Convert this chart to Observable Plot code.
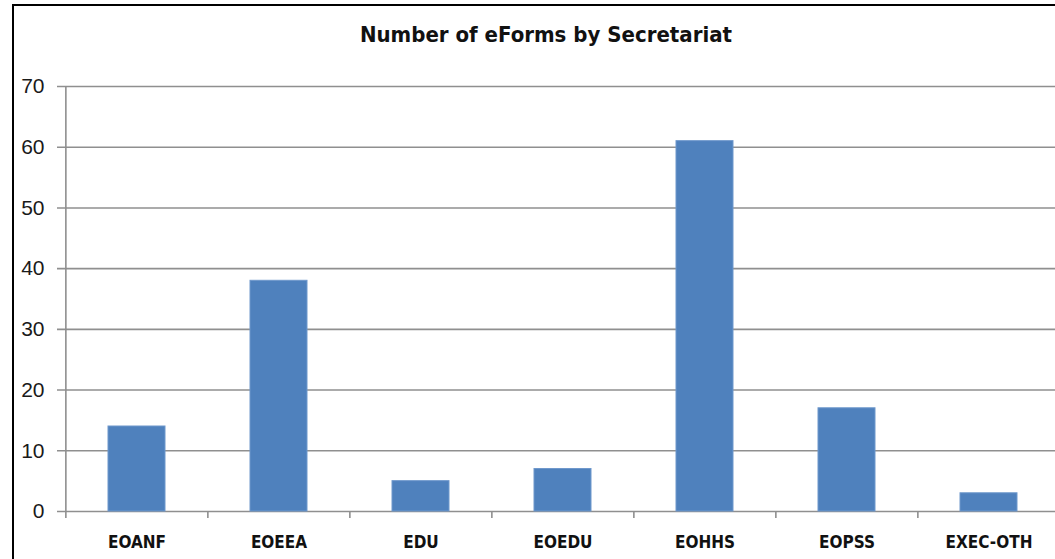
<!DOCTYPE html>
<html>
<head>
<meta charset="utf-8">
<script src="https://cdn.jsdelivr.net/npm/d3@7"></script>
<script src="https://cdn.jsdelivr.net/npm/@observablehq/plot@0.6"></script>
<style>
  html, body { margin: 0; padding: 0; background: #fff; }
  #page { position: relative; width: 1055px; height: 559px; overflow: hidden; background: #fff; }
  #frame { position: absolute; left: 12px; top: 4px; width: 1200px; height: 700px;
           border-left: 2px solid #000; border-top: 2px solid #000; box-sizing: border-box; }
  #title { position: absolute; left: 0; top: 22px; width: 1092px; text-align: center;
           font-family: "Liberation Sans Narrow", "DejaVu Sans Condensed", "Liberation Sans", sans-serif;
           font-weight: bold; font-size: 22px; color: #111; }
  #chart { position: absolute; left: 0; top: 60px; }
</style>
</head>
<body>
<div id="page">
  <div id="frame"></div>
  <div id="title">Number of eForms by Secretariat</div>
  <div id="chart"></div>
</div>
<script>
const categories = ["EOANF", "EOEEA", "EDU", "EOEDU", "EOHHS", "EOPSS", "EXEC-OTH"];
const counts = [14, 38, 5, 7, 61, 17, 3];
const yTicks = [0, 10, 20, 30, 40, 50, 60, 70];

const data = categories.map((c, i) => ({secretariat: c, count: counts[i]}));

const xStart = 64, xEnd = 1060;
const halfStep = (xEnd - xStart) / categories.length / 2;
const gridColor = "#8f8f8f";

const chart = Plot.plot({
  width: 1055,
  height: 499,
  marginTop: 26,
  marginBottom: 48,
  marginLeft: 64,
  marginRight: 0,
  style: {background: "transparent", overflow: "visible"},
  x: {domain: categories, range: [xStart, xEnd], paddingInner: 0.6, paddingOuter: 0.3, label: null},
  y: {domain: [0, 70], label: null},
  marks: [
    Plot.ruleY(yTicks, {stroke: gridColor, strokeWidth: 1.6, insetLeft: -7}),
    Plot.ruleX([categories[0]], {x: d => d, dx: -halfStep, y1: 0, y2: 70, stroke: gridColor, strokeWidth: 1.6}),
    Plot.axisX({tickSize: 7, stroke: gridColor, strokeWidth: 1.6, dx: -halfStep, text: null, label: null}),
    Plot.axisX({tickSize: 0, tickPadding: 24, fontSize: 17, fontWeight: "bold",
                fontFamily: "'Liberation Sans Narrow', 'DejaVu Sans Condensed', 'Liberation Sans', sans-serif",
                fill: "#111", label: null}),
    Plot.axisY(yTicks, {tickSize: 0, tickPadding: 20, fontSize: 21,
                fontFamily: "'Liberation Sans', sans-serif", fill: "#1a1a1a", label: null}),
    Plot.barY(data, {x: "secretariat", y: "count", fill: "#4F81BD", stroke: "#6f98cc", strokeWidth: 1})
  ]
});
document.getElementById("chart").appendChild(chart);
</script>
</body>
</html>
